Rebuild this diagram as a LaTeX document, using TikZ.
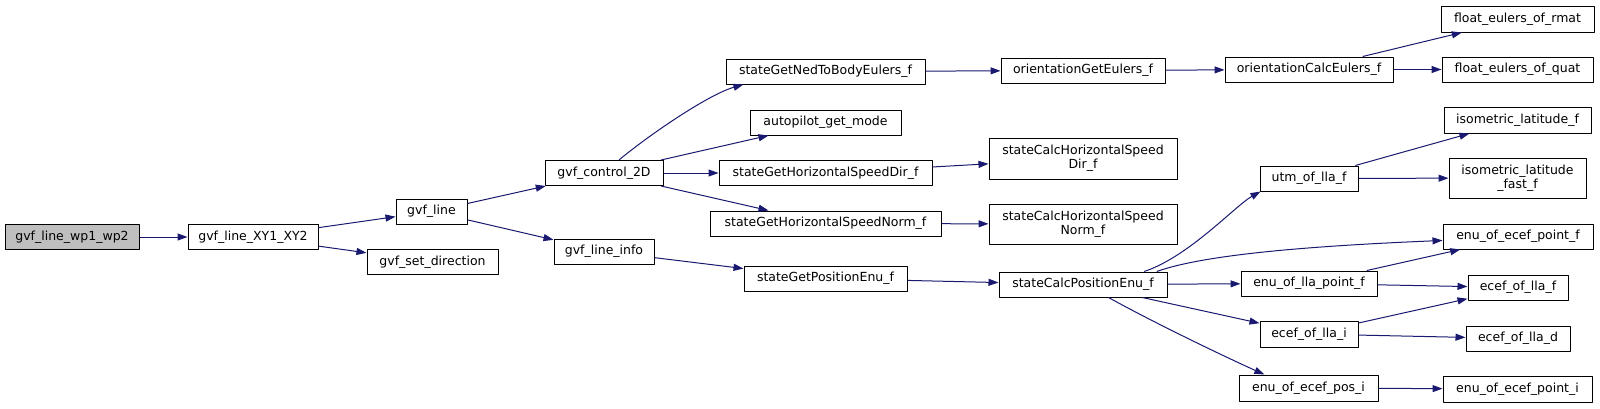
\documentclass[tikz,border=0pt]{standalone}
\usepackage{fontspec}
\setmainfont{DejaVu Sans}
\usetikzlibrary{arrows.meta}
\definecolor{edgeblue}{HTML}{191970}
\definecolor{rootgray}{HTML}{BFBFBF}

\begin{document}
\begin{tikzpicture}[x=1pt,y=-1pt,font=\fontsize{12.5}{14}\selectfont,
  >={Triangle[length=10pt,width=7pt]},line join=round,
  fn/.style={draw=black,line width=1pt,inner sep=0pt,minimum height=25pt,align=center},
  root/.style={fn,fill=rootgray},
  call/.style={edgeblue,line width=1pt,->}]
  \useasboundingbox (0,0) rectangle (1600,408);

  % first columns
  \node[root,minimum width=134pt] (wp) at (72,237) {gvf\_line\_wp1\_wp2};
  \node[fn,minimum width=130pt] (xy) at (253,237) {gvf\_line\_XY1\_XY2};
  \node[fn,minimum width=71pt] (line) at (431.5,211.5) {gvf\_line};
  \node[fn,minimum width=131pt] (setdir) at (432.5,262) {gvf\_set\_direction};
  \node[fn,minimum width=118pt] (ctrl) at (604,173) {gvf\_control\_2D};
  \node[fn,minimum width=100pt] (info) at (604,251.5) {gvf\_line\_info};

  % state getters
  \node[fn,minimum width=199pt] (ned) at (825.5,71.5) {stateGetNedToBodyEulers\_f};
  \node[fn,minimum width=151pt] (mode) at (825.5,122.5) {autopilot\_get\_mode};
  \node[fn,minimum width=213pt] (hsd) at (825.5,173) {stateGetHorizontalSpeedDir\_f};
  \node[fn,minimum width=231pt] (hsn) at (825.5,223.5) {stateGetHorizontalSpeedNorm\_f};
  \node[fn,minimum width=163pt] (gpe) at (825.5,278.5) {stateGetPositionEnu\_f};

  % state calc
  \node[fn,minimum width=164pt] (oge) at (1083,70.5) {orientationGetEulers\_f};
  \node[fn,minimum width=188pt,minimum height=41pt] (chd) at (1083,158.5)
    {stateCalcHorizontalSpeed\\Dir\_f};
  \node[fn,minimum width=188pt,minimum height=40pt] (chn) at (1083,224)
    {stateCalcHorizontalSpeed\\Norm\_f};
  \node[fn,minimum width=168pt] (cpe) at (1083,284.5) {stateCalcPositionEnu\_f};

  % conversions
  \node[fn,minimum width=168pt] (oce) at (1309,69.5) {orientationCalcEulers\_f};
  \node[fn,minimum width=98pt] (utm) at (1309,178.5) {utm\_of\_lla\_f};
  \node[fn,minimum width=136pt] (elp) at (1309,283.5) {enu\_of\_lla\_point\_f};
  \node[fn,minimum width=98pt,minimum height=26pt] (eli) at (1309,334) {ecef\_of\_lla\_i};
  \node[fn,minimum width=139pt,minimum height=26pt] (epi) at (1308.5,388) {enu\_of\_ecef\_pos\_i};

  % leaves
  \node[fn,minimum width=153pt,minimum height=26pt] (rmat) at (1517.5,19) {float\_eulers\_of\_rmat};
  \node[fn,minimum width=151pt] (quat) at (1517.5,69.5) {float\_eulers\_of\_quat};
  \node[fn,minimum width=147pt,minimum height=26pt] (iso) at (1517.5,120) {isometric\_latitude\_f};
  \node[fn,minimum width=137pt,minimum height=40pt] (isofast) at (1517.5,178)
    {isometric\_latitude\\\_fast\_f};
  \node[fn,minimum width=150pt] (epf) at (1518,236.5) {enu\_of\_ecef\_point\_f};
  \node[fn,minimum width=100pt] (elf) at (1518,287.5) {ecef\_of\_lla\_f};
  \node[fn,minimum width=104pt] (eld) at (1518,338.5) {ecef\_of\_lla\_d};
  \node[fn,minimum width=149pt,minimum height=26pt] (ept) at (1517.5,389) {enu\_of\_ecef\_point\_i};

  % straight calls
  \foreach \a/\b in {wp/xy,xy/line,xy/setdir,line/ctrl,line/info,
      ctrl/mode,ctrl/hsd,ctrl/hsn,info/gpe,ned/oge,hsd/chd,hsn/chn,gpe/cpe,
      oge/oce,oce/rmat,oce/quat,cpe/elp,cpe/eli,utm/iso,utm/isofast,
      elp/epf,elp/elf,eli/elf,eli/eld,epi/ept}
    \draw[call] (\a) -- (\b);

  % bent calls
  \draw[call] (ctrl.41) .. controls +(30,-25) and +(-35,10) .. (ned.189);
  \draw[call] (cpe.12) .. controls +(45,-15) and +(-25,14) .. (utm.195);
  \draw[call] (cpe.10) .. controls +(50,-18) and +(-120,5) .. (epf.183);
  \draw[call] (cpe.333) .. controls +(45,25) and +(-40,-18) .. (epi.163);
\end{tikzpicture}
\end{document}
